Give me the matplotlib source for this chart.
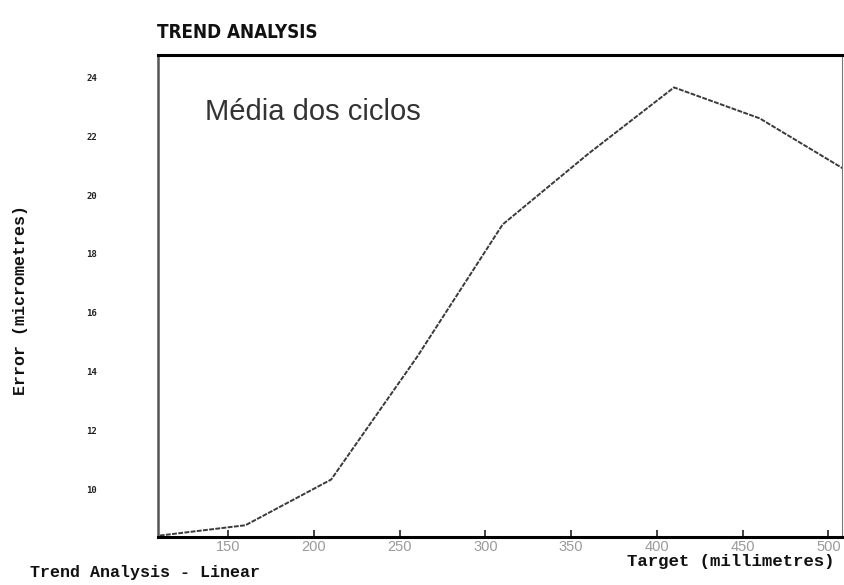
import matplotlib
matplotlib.use("Agg")
import matplotlib.pyplot as plt

# Data
target_mm = [110, 160, 210, 260, 310, 360, 410, 460, 510]
error_um = [8.45, 8.8, 10.35, 14.5, 19.0, 21.4, 23.65, 22.6, 20.85]
x_ticks = [150, 200, 250, 300, 350, 400, 450, 500]
y_ticks = [10, 12, 14, 16, 18, 20, 22, 24]

fig = plt.figure(figsize=(8.45, 5.85), dpi=100)
ax = fig.add_axes([0.187, 0.082, 0.8095, 0.824])

ax.plot(target_mm, error_um, color="#3a3a3a", lw=1.4, linestyle=(0, (2.5, 0.7)))

ax.set_xlim(109, 508)
ax.set_ylim(8.4, 24.75)
ax.set_xticks(x_ticks)
ax.set_yticks(y_ticks)
ax.set_xticklabels([str(v) for v in x_ticks], fontsize=10.5, color="#9a9a9a",
                   family="Liberation Sans")
ax.set_yticklabels([str(v) for v in y_ticks], fontsize=6.5, fontweight="bold",
                   family="DejaVu Sans Mono", color="#222")
ax.tick_params(axis="x", direction="in", length=5, width=1.2, color="#222", pad=2)
ax.tick_params(axis="y", length=0, pad=44)

ax.spines["top"].set_linewidth(2.2)
ax.spines["bottom"].set_linewidth(2.2)
ax.spines["left"].set_linewidth(1.8)
ax.spines["left"].set_color("#555")
ax.spines["right"].set_linewidth(0.8)
ax.spines["right"].set_color("#777")

ax.text(0.069, 0.91, "Média dos ciclos", transform=ax.transAxes, fontsize=21,
        family="Liberation Sans", color="#333", va="top", ha="left")

fig.text(0.186, 0.945, "TREND ANALYSIS", fontsize=13.5, fontweight="bold",
         family=["Liberation Sans Narrow", "DejaVu Sans"], fontstretch="condensed",
         ha="left", va="center", color="#111")
fig.text(0.024, 0.487, "Error (micrometres)", rotation=90, fontsize=12,
         fontweight="bold", family="Liberation Mono", ha="center", va="center",
         color="#111")
fig.text(0.988, 0.04, "Target (millimetres)", fontsize=12.5, fontweight="bold",
         family="Liberation Mono", ha="right", va="center", color="#111")
fig.text(0.035, 0.022, "Trend Analysis - Linear", fontsize=12, fontweight="bold",
         family="Liberation Mono", ha="left", va="center", color="#111")

fig.savefig("out.png", dpi=100)
